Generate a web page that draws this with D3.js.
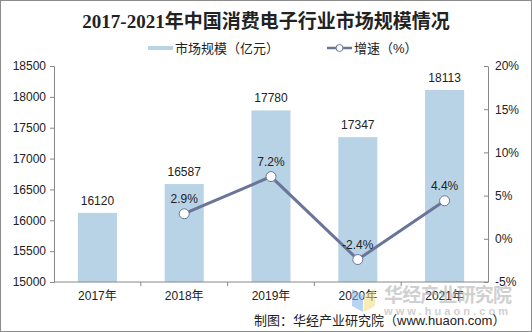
<!DOCTYPE html>
<html><head><meta charset="utf-8">
<script src="https://cdn.jsdelivr.net/npm/d3@7"></script>
<style>
body{margin:0;background:#fff;}
svg{display:block;font-family:Arial,"Liberation Sans","Noto Sans CJK SC",sans-serif;}
</style></head>
<body><svg id="c" width="532" height="332"></svg>
<script>
const categories = ["2017年","2018年","2019年","2020年","2021年"];
const marketSize = [16120,16587,17780,17347,18113];
const growthYears = ["2018年","2019年","2020年","2021年"];
const growth = [2.9,7.2,-2.4,4.4];
const leftTicks = [15000,15500,16000,16500,17000,17500,18000,18500];
const rightTicks = [-5,0,5,10,15,20];

const svg = d3.select("#c");
svg.append("rect").attr("x",0.5).attr("y",0.5).attr("width",531).attr("height",331)
  .attr("fill","#fff").attr("stroke","#8c8c8c");

const L=54, R=488, T=66, B=282;
const x = d3.scaleBand().domain(categories).range([L,R]).paddingInner(0.55).paddingOuter(0.275);
const xb = d3.scaleBand().domain(categories).range([L,R]);
const yL = d3.scaleLinear().domain([15000,18500]).range([B,T]);
const yR = d3.scaleLinear().domain([-5,20]).range([B,T]);

// title
svg.append("text").attr("x",266).attr("y",28).attr("text-anchor","middle")
  .style("font-family",'"Liberation Serif","Noto Sans CJK SC",serif').style("font-weight","bold")
  .style("font-size","19px").attr("fill","#222").text("2017-2021年中国消费电子行业市场规模情况");

// legend
svg.append("rect").attr("x",148).attr("y",46).attr("width",25).attr("height",4).attr("fill","#b8d3e6");
svg.append("text").attr("x",175).attr("y",53).style("font-size","13px").attr("fill","#222").text("市场规模（亿元）");
svg.append("line").attr("x1",327).attr("x2",352).attr("y1",48).attr("y2",48).attr("stroke","#6b7599").attr("stroke-width",2.5);
svg.append("circle").attr("cx",339.5).attr("cy",48).attr("r",3.5).attr("fill","#fff").attr("stroke","#6b7599").attr("stroke-width",1);
svg.append("text").attr("x",354).attr("y",53).style("font-size","13px").attr("fill","#222").text("增速（%）");

// bars
svg.append("g").selectAll("rect").data(marketSize).join("rect")
  .attr("x",(d,i)=>x(categories[i])).attr("width",x.bandwidth())
  .attr("y",d=>yL(d)).attr("height",d=>B-yL(d)).attr("fill","#b8d3e6");
svg.append("g").selectAll("text").data(marketSize).join("text")
  .attr("x",(d,i)=>x(categories[i])+x.bandwidth()/2).attr("y",d=>yL(d)-8)
  .attr("text-anchor","middle").style("font-size","12px").attr("fill","#222").text(d=>d);

// axes
const gl = svg.append("g").attr("transform",`translate(${L},0)`)
  .call(d3.axisLeft(yL).tickValues(leftTicks).tickSize(4).tickPadding(4).tickFormat(d3.format("d")));
const gr = svg.append("g").attr("transform",`translate(${R},0)`)
  .call(d3.axisRight(yR).tickValues(rightTicks).tickSize(0).tickPadding(7).tickFormat(d=>d+"%"));
gr.selectAll(".tick").append("line").attr("x1",-4).attr("x2",0).attr("stroke","#888");
const gx = svg.append("g").attr("transform",`translate(0,${B})`)
  .call(d3.axisBottom(x).tickSize(0).tickPadding(9));
[gl,gr,gx].forEach(g=>{
  g.select(".domain").attr("stroke","#888");
  g.selectAll(".tick line").attr("stroke","#888");
  g.selectAll("text").style("font-size","12px").attr("fill","#222")
   .style("font-family",'Arial,"Liberation Sans","Noto Sans CJK SC",sans-serif');
});
gx.select(".domain").attr("d",`M${L},0H${R}`);
svg.append("g").selectAll("line").data(categories.slice(1)).join("line")
  .attr("x1",d=>xb(d)).attr("x2",d=>xb(d)).attr("y1",B).attr("y2",B+4).attr("stroke","#888");

// line
const cx = d=>x(d)+x.bandwidth()/2;
const pts = growth.map((g,i)=>[cx(growthYears[i]),yR(g)]);
svg.append("path").attr("d",d3.line()(pts)).attr("fill","none")
  .attr("stroke","#6b7599").attr("stroke-width",3);
svg.append("g").selectAll("circle").data(pts).join("circle")
  .attr("cx",d=>d[0]).attr("cy",d=>d[1]).attr("r",5).attr("fill","#fff")
  .attr("stroke","#6b7599").attr("stroke-width",1);
svg.append("g").selectAll("text").data(growth).join("text")
  .attr("x",(d,i)=>cx(growthYears[i])).attr("y",d=>yR(d)-11)
  .attr("text-anchor","middle").style("font-size","12px").attr("fill","#222").text(d=>d.toFixed(1)+"%");

// watermark
const wm = svg.append("g").attr("opacity",0.55);
wm.append("path").attr("d","M352,289 L363,295 L363,312 L352,306 Z").attr("fill","#7fb2ea");
wm.append("path").attr("d","M364,295 L375,289 L375,306 L364,312 Z").attr("fill","#f5dc7a");
wm.append("text").attr("x",384).attr("y",302).style("font-size","19px").style("font-weight","bold")
  .attr("fill","#aaa").attr("textLength",128).text("华经产业研究院");
wm.append("text").attr("x",384).attr("y",315).style("font-size","11px").style("font-weight","bold")
  .attr("fill","#aaa").attr("textLength",124).text("www.huaon.com");

// source
svg.append("text").attr("x",254).attr("y",325).style("font-size","13px").attr("fill","#222")
  .text("制图：华经产业研究院（www.huaon.com）");
</script></body></html>
